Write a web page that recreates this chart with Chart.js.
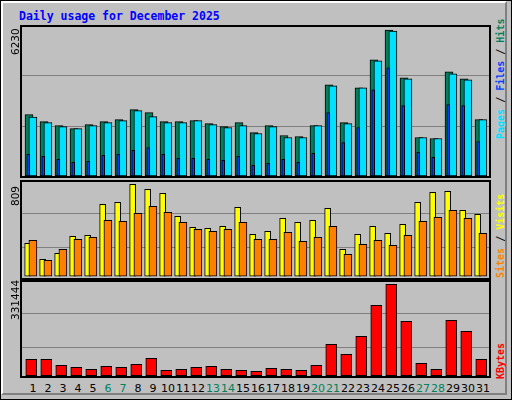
<!DOCTYPE html>
<html><head><meta charset="utf-8">
<script src="https://cdn.jsdelivr.net/npm/chart.js@4/dist/chart.umd.min.js"></script>
<style>
body{margin:0;background:#fff}
#wrap{position:relative;width:510px;height:398px;background:#c0c0c0;border:1px solid #000;overflow:hidden}
#bevel{position:absolute;left:0;top:0;width:502px;height:390px;border:2px solid;border-color:#fff #808080 #808080 #fff}
canvas{position:absolute}
.t{position:absolute;white-space:nowrap}
.rot{position:absolute;white-space:nowrap;transform-origin:0 0;transform:rotate(-90deg)}
</style></head><body>
<div id="wrap"><div id="bevel"></div>
<div class="t" style="left:18px;top:8px;font:bold 11.5px 'DejaVu Sans Mono';color:#0000ff">Daily usage for December 2025</div>
<canvas id="c1" width="471" height="153" style="left:19px;top:24px"></canvas>
<canvas id="c2" width="471" height="100" style="left:19px;top:179px"></canvas>
<canvas id="c3" width="471" height="98" style="left:19px;top:279px"></canvas>
</div>
<script>
const days=[1,2,3,4,5,6,7,8,9,10,11,12,13,14,15,16,17,18,19,20,21,22,23,24,25,26,27,28,29,30,31];
const weekend=[6,7,13,14,20,21,27,28];
const hits=[2532,2245,2081,1958,2122,2245,2327,2737,2614,2245,2245,2286,2163,2040,2204,1793,2081,1670,1629,2081,3763,2204,3640,4789,6021,4051,1588,1547,4297,4010,2327];
const files=[2434,2204,2040,1958,2081,2204,2286,2696,2450,2204,2204,2286,2122,1999,2081,1752,2040,1588,1588,2081,3722,2163,3640,4748,5980,4010,1588,1547,4215,3969,2327];
const pages=[891,808,685,562,603,850,891,1055,1178,891,726,726,685,644,808,439,521,685,562,932,2614,1383,1999,3558,4461,2902,973,767,2943,2902,1424];
const sites=[297,167,216,353,361,612,628,774,734,701,515,426,418,434,588,369,394,499,467,483,580,248,369,434,378,450,628,709,717,564,531];
const visits=[321,159,248,329,345,483,475,539,596,547,467,410,394,410,467,329,329,386,313,345,434,208,289,321,280,361,475,507,564,499,378];
const kbytes=[68500,68500,48600,42000,35400,45300,42000,51900,71800,32000,35400,42000,45300,35400,32000,28700,38700,35400,32000,48600,118200,85100,144700,247500,317100,194400,55200,35400,197800,161300,68500];
const maxHits=6230, maxVisits=809, maxKB=331444;

const frame={id:'frame',
 beforeDatasetsDraw(c){const ctx=c.ctx,y=c.scales.y,a=c.chartArea,m=c.options.plugins.frame.max;
  ctx.save();ctx.strokeStyle='#808080';ctx.lineWidth=1;
  [1,2].forEach(k=>{const p=Math.round(y.getPixelForValue(m*k/3))+0.5;ctx.beginPath();ctx.moveTo(a.left,p);ctx.lineTo(a.right,p);ctx.stroke();});
  ctx.restore();},
 afterDraw(c){const ctx=c.ctx;ctx.save();ctx.strokeStyle='#000';ctx.lineWidth=2;ctx.strokeRect(1,1,c.width-2,c.height-2);ctx.restore();}};

function ds(vals,off,w,color,base,order){return{data:vals.map((v,i)=>({x:days[i]+off,y:v})),backgroundColor:color,borderColor:'#000',borderWidth:1,barThickness:w,grouped:false,base:base,order:order,borderSkipped:false};}
function mk(id,sets,lo,hi){
 return new Chart(document.getElementById(id),{type:'bar',data:{datasets:sets},
  options:{responsive:false,animation:false,devicePixelRatio:1,layout:{padding:0},
   plugins:{legend:{display:false},tooltip:{enabled:false},frame:{max:hi}},
   scales:{x:{type:'linear',offset:false,min:0.27,max:31.67,display:false},y:{min:lo,max:hi,display:false}}},plugins:[frame]});}

mk('c1',[ds(hits,-0.13,8,'#00805c',0,3),ds(files,0.13,8,'#00e0ff',0,2),ds(pages,-0.18,3,'#0040ff',0,1)],-82,maxHits);
mk('c2',[ds(sites,-0.22,6,'#ffff00',31,2),ds(visits,0.13,8,'#ff8000',31,1)],0,maxVisits);
const c3=mk('c3',[ds(kbytes,0.02,11,'#ff0000',14300,1)],6600,maxKB);

const wrap=document.getElementById('wrap');
days.forEach(d=>{const e=document.createElement('div');e.className='t';e.textContent=d;
 e.style.cssText+=`font:11px 'DejaVu Sans';color:${weekend.includes(d)?'#00805c':'#000'};top:381px;width:20px;text-align:center;left:${19+c3.scales.x.getPixelForValue(d+0.13)-10}px`;wrap.appendChild(e);});
function rot(html,x,yBottom,font){const e=document.createElement('div');e.className='rot';e.innerHTML=html;e.style.font=font;e.style.left=x+'px';e.style.top=yBottom+'px';wrap.appendChild(e);}
const lf="10.5px 'DejaVu Sans'";
rot(maxHits,8,54,lf);rot(maxVisits,8,205,lf);rot(maxKB,8,319,lf);
const rf="bold 10px 'DejaVu Sans Mono'";
rot('<span style="color:#00e0ff">Pages</span> / <span style="color:#0040ff">Files</span> / <span style="color:#00805c">Hits</span>',494,138,rf);
rot('<span style="color:#ff8000">Sites</span> / <span style="color:#ffff00">Visits</span>',494,277,rf);
rot('<span style="color:#ff0000">KBytes</span>',494,378,rf);
</script></body></html>
